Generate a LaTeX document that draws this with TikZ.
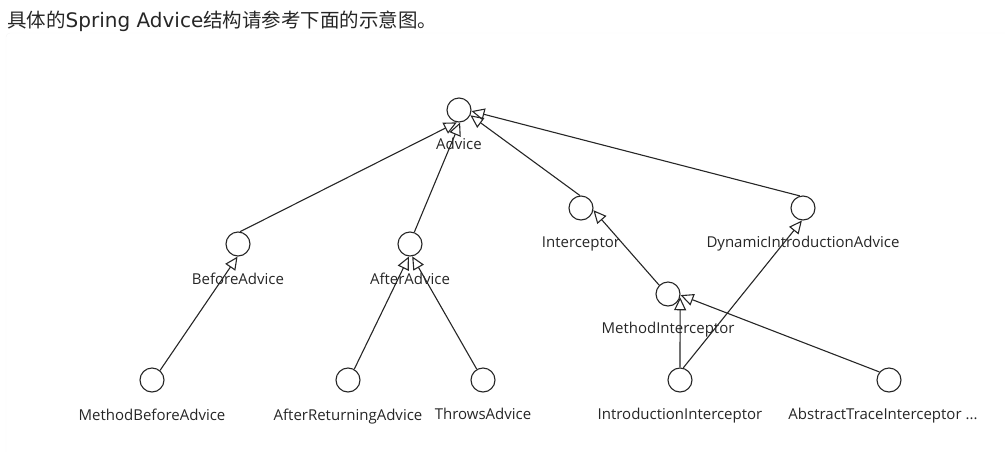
\documentclass[tikz,border=0pt]{standalone}
\usepackage{fontspec}
\usetikzlibrary{arrows.meta}
\newfontfamily\cjkfont{Noto Sans CJK SC}
\newfontfamily\titlefont{DejaVu Sans}
\newfontfamily\labelfont{Open Sans}

\begin{document}
\begin{tikzpicture}[x=1pt,y=-1pt, label distance=12.5pt]
            \tikzstyle{iface}=[circle, draw=black!85, line width=1.1pt,
            inner sep=0pt, minimum size=24pt]
            \tikzstyle{gen}=[draw=black!85, line width=1.1pt,
            -{Triangle[open, length=13pt, width=12pt]}]
            \tikzset{every label/.style={font=\labelfont\fontsize{15}{17}\selectfont, text=black!85}}
            \useasboundingbox (0,0) rectangle (1005,451);
            \draw[black!4, rounded corners=4pt] (6,33) rectangle (1030,480);

            \node[anchor=west, inner sep=0pt, text=black!85] (title) at (7,21)
            {{\cjkfont\fontsize{19.5}{20}\selectfont 具体的}{\titlefont\fontsize{20}{20}\selectfont Spring Advice}{\cjkfont\fontsize{19.5}{20}\selectfont 结构请参考下面的示意图。}};

            \node[iface, label=below:Advice] (adv) at (459,110) {};
            \node[iface, label=below:BeforeAdvice] (bef) at (238,244) {};
            \node[iface, label=below:AfterAdvice] (aft) at (410,244) {};
            \node[iface, label=below:Interceptor] (icp) at (581,208) {};
            \node[iface, label=below:DynamicIntroductionAdvice] (dia) at (803,208) {};
            \node[iface, label=below:MethodInterceptor] (mi) at (668,294) {};

            \node[iface, label=below:MethodBeforeAdvice] (mba) at (152,380) {};
            \node[iface, label=below:AfterReturningAdvice] (ara) at (348,380) {};
            \node[iface, label=below:ThrowsAdvice] (thr) at (483,380) {};
            \node[iface, label=below:IntroductionInterceptor] (itc) at (680,380) {};
            \node[iface, label={[xshift=-6pt]below:AbstractTraceInterceptor ...}] (ati) at (889,380) {};

            \path (bef.80) edge[gen] (adv.-100);
            \path (aft.70) edge[gen] (adv.-85);
            \path (icp.95) edge[gen] (adv.-25);
            \path (dia.105) edge[gen] (adv.-5);

            \path (mba.50) edge[gen] (bef.-92);
            \path (ara.60) edge[gen] (aft.-95);
            \path (thr.120) edge[gen] (aft.-80);

            \path (mi.135) edge[gen] (icp.-10);
            \path (itc.north) edge[gen] (mi.-15);
            \path (ati.140) edge[gen] (mi.-5);
            \path (itc.75) edge[gen] (dia.-95);
        \end{tikzpicture}
\end{document}
